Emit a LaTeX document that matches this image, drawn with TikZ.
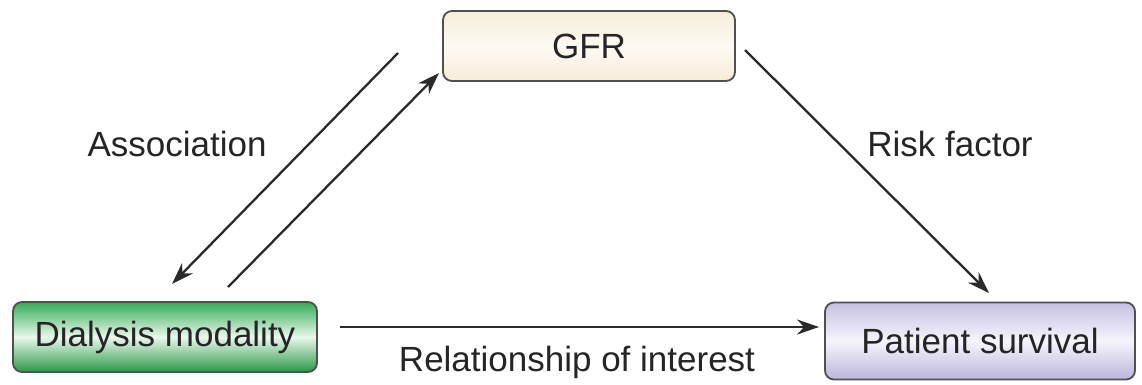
\documentclass[tikz,border=0pt]{standalone}
\usepackage{fontspec}
\setmainfont{Liberation Sans}
\usetikzlibrary{arrows.meta}
\definecolor{txt}{HTML}{252525}
\definecolor{edge}{HTML}{505050}
\definecolor{lnc}{HTML}{2A2A2A}
\definecolor{creamA}{HTML}{F6ECD8}
\definecolor{creamB}{HTML}{FDFAF3}
\definecolor{grnA}{HTML}{34AC56}
\definecolor{grnB}{HTML}{EAF7EC}
\definecolor{grnC}{HTML}{289944}
\definecolor{vioA}{HTML}{C6C0E3}
\definecolor{vioB}{HTML}{F6F4FB}
\definecolor{vioC}{HTML}{BCB5DB}
\begin{document}
\begin{tikzpicture}[x=1pt,y=-1pt,
  box/.style={draw=edge, line width=1.8pt, rounded corners=9pt, inner sep=0pt,
    font=\fontsize{35}{40}\selectfont, text=txt},
  lbl/.style={font=\fontsize{35}{40}\selectfont, text=txt},
  arr/.style={draw=lnc, line width=2.3pt, -{Stealth[length=22pt,width=15pt]}}]
\useasboundingbox (0,0) rectangle (1142,384);
\node[box, minimum width=292pt, minimum height=70pt,
  top color=creamA, bottom color=creamA, middle color=creamB] (gfr) at (589,46) {GFR};
\node[box, minimum width=304pt, minimum height=70pt,
  top color=grnA, bottom color=grnC, middle color=grnB] (dia) at (165,337) {Dialysis modality};
\node[box, minimum width=310pt, minimum height=77pt,
  top color=vioA, bottom color=vioC, middle color=vioB] (pat) at (980,341) {Patient survival};
\coordinate (a1) at (398,53);
\coordinate (a2) at (172,284);
\coordinate (b1) at (228,287);
\coordinate (b2) at (439,73);
\coordinate (r1) at (745,50);
\coordinate (r2) at (989,293);
\coordinate (h1) at (340,327);
\coordinate (h2) at (819,327);
\draw[arr] (a1) -- (a2);
\draw[arr] (b1) -- (b2);
\draw[arr] (r1) -- (r2);
\draw[arr] (h1) -- (h2);
\node[lbl] (assoc) at (177,144) {Association};
\node[lbl] (risk) at (950,144) {Risk factor};
\node[lbl] (rel) at (577,362) {Relationship of interest};
\end{tikzpicture}
\end{document}
